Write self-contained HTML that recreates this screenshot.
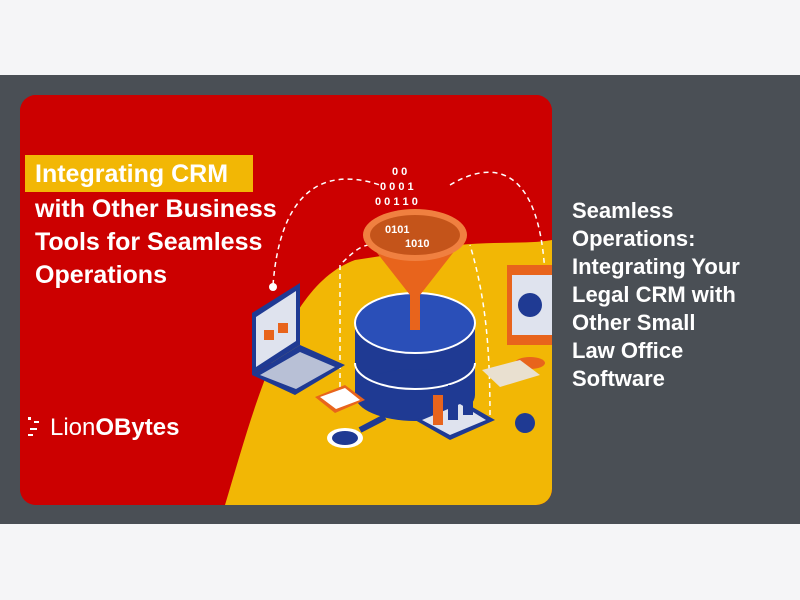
<!DOCTYPE html>
<html><head><meta charset="utf-8"><style>
html,body{margin:0;padding:0;width:800px;height:600px;background:#f5f5f7;overflow:hidden;font-family:"Liberation Sans",sans-serif}
.band{position:absolute;left:0;top:75px;width:800px;height:449px;background:#4a4f55}
.card{position:absolute;left:20px;top:95px;width:532px;height:410px;border-radius:16px;overflow:hidden;background:#cc0000}
.t{position:absolute;left:572px;top:197px;width:226px;white-space:nowrap;color:#fff;font-weight:bold;font-size:22px;line-height:28px}
</style></head><body>
<div class="band"></div>
<div class="card">
<svg width="532" height="410" viewBox="0 0 532 410" xmlns="http://www.w3.org/2000/svg" font-family="Liberation Sans, sans-serif">
<rect width="532" height="410" fill="#cc0000"/>
<path d="M205,410 C235,310 265,190 335,165 L420,152 C470,145 505,150 532,145 L532,410 Z" fill="#f2b705"/>
<rect x="5" y="60" width="228" height="37" fill="#f2b705"/>
<g fill="#fff" font-size="25" font-weight="bold">
<text x="15" y="87">Integrating CRM</text>
<text x="15" y="122">with Other Business</text>
<text x="15" y="155">Tools for Seamless</text>
<text x="15" y="188">Operations</text>
</g>
<g fill="none" stroke="#fff" stroke-width="1.5" stroke-dasharray="5,4">
<path d="M253,190 C260,100 300,70 360,90"/>
<path d="M430,90 C480,60 520,80 525,180"/>
<path d="M320,310 L320,170 C330,160 340,150 350,150"/>
<path d="M470,320 C470,250 465,200 450,150"/>
</g>
<circle cx="253" cy="192" r="4" fill="#fff"/>
<path d="M232,218 L280,188 L280,250 L232,280 Z" fill="#1f3a93"/>
<path d="M236,222 L276,196 L276,246 L236,272 Z" fill="#dfe3ee"/>
<rect x="244" y="235" width="10" height="10" fill="#e8641c"/><rect x="258" y="228" width="10" height="10" fill="#e8641c"/>
<path d="M232,280 L280,250 L325,270 L275,300 Z" fill="#1f3a93"/>
<path d="M240,280 L280,257 L315,272 L276,294 Z" fill="#b8c0d6"/>
<rect x="335" y="230" width="120" height="70" fill="#1f3a93"/>
<ellipse cx="395" cy="300" rx="60" ry="26" fill="#1f3a93"/>
<path d="M335,268 A60,26 0 0,0 455,268" fill="none" stroke="#fff" stroke-width="2"/>
<ellipse cx="395" cy="228" rx="60" ry="30" fill="#2a4fb8" stroke="#fff" stroke-width="2"/>
<path d="M343,140 L447,140 L400,200 L400,235 L390,235 L390,200 Z" fill="#e8641c"/>
<ellipse cx="395" cy="140" rx="52" ry="26" fill="#f08040"/>
<ellipse cx="395" cy="140" rx="45" ry="20" fill="#c4541a"/>
<g fill="#fff" font-size="11" font-weight="bold">
<text x="365" y="138">0101</text><text x="385" y="152">1010</text>
<text x="355" y="110">0 0 1 1 0</text><text x="360" y="95">0 0 0 1</text><text x="372" y="80">0 0</text>
</g>
<rect x="487" y="170" width="45" height="80" fill="#e8641c"/>
<rect x="492" y="180" width="40" height="60" fill="#dfe3ee"/>
<circle cx="510" cy="210" r="12" fill="#1f3a93"/>
<ellipse cx="510" cy="268" rx="15" ry="6" fill="#e8641c"/>
<path d="M462,275 L500,265 L520,280 L480,292 Z" fill="#e9e0d0"/>
<path d="M295,302 L325,290 L345,305 L315,318 Z" fill="#e8641c"/>
<path d="M300,302 L325,293 L340,305 L316,314 Z" fill="#fff"/>
<path d="M395,325 L440,305 L475,325 L430,345 Z" fill="#1f3a93"/>
<path d="M402,325 L440,309 L466,325 L430,340 Z" fill="#dfe3ee"/>
<rect x="413" y="300" width="10" height="30" fill="#e8641c"/>
<rect x="428" y="290" width="10" height="35" fill="#1f3a93"/>
<rect x="443" y="285" width="10" height="35" fill="#1f3a93"/>
<ellipse cx="325" cy="343" rx="18" ry="10" fill="#fff"/>
<ellipse cx="325" cy="343" rx="13" ry="7" fill="#1f3a93"/>
<line x1="340" y1="335" x2="365" y2="322" stroke="#1f3a93" stroke-width="6"/>
<circle cx="505" cy="328" r="10" fill="#1f3a93"/>
<text x="30" y="340" fill="#fff" font-size="24">Lion<tspan font-weight="bold">OBytes</tspan></text>
<g fill="#fff"><rect x="8" y="322" width="3" height="3"/><rect x="14" y="326" width="5" height="2"/><rect x="10" y="333" width="7" height="2"/><rect x="8" y="339" width="5" height="2"/></g>
</svg>
</div>
<div class="t">Seamless<br>Operations:<br>Integrating Your<br>Legal CRM with<br>Other Small<br>Law Office<br>Software</div>
</body></html>
